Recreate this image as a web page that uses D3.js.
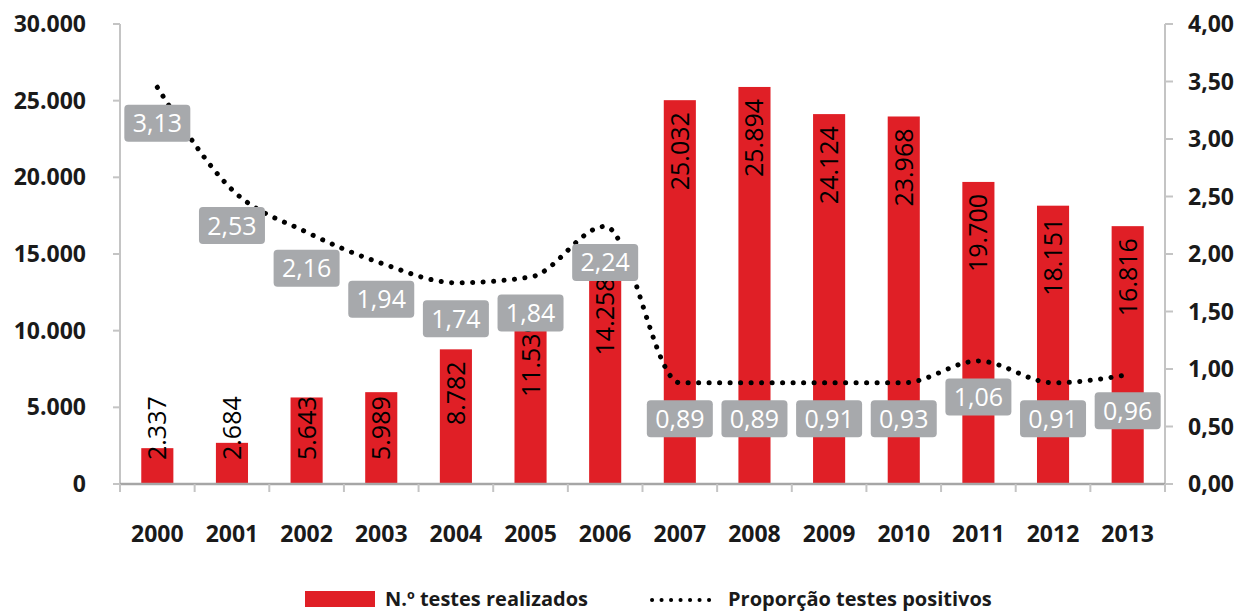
<!DOCTYPE html>
<html>
<head>
<meta charset="utf-8">
<script src="https://cdn.jsdelivr.net/npm/d3@7"></script>
<style>
  body { margin: 0; background: #fff; }
  svg { font-family: "Open Sans", sans-serif; }
</style>
</head>
<body>
<div id="chart"></div>
<script>
var years = ["2000", "2001", "2002", "2003", "2004", "2005", "2006",
             "2007", "2008", "2009", "2010", "2011", "2012", "2013"];
var testes = [2337, 2684, 5643, 5989, 8782, 11539, 14258,
              25032, 25894, 24124, 23968, 19700, 18151, 16816];
// line as drawn in the picture
var proporcao = [3.45, 2.56, 2.19, 1.92, 1.75, 1.80, 2.24,
                 0.88, 0.88, 0.88, 0.88, 1.07, 0.88, 0.95];
// value labels printed on the grey boxes
var proporcao_labels = ["3,13", "2,53", "2,16", "1,94", "1,74", "1,84", "2,24",
                        "0,89", "0,89", "0,91", "0,93", "1,06", "0,91", "0,96"];
var left_ticks = [0, 5000, 10000, 15000, 20000, 25000, 30000];
var right_ticks = [0, 0.5, 1, 1.5, 2, 2.5, 3, 3.5, 4];

function draw_chart() {
    var width = 1247;
    var height = 612;
    var red = "#e01f26";
    var grey_box = "#a7a9ac";
    var axis_color = "#c4c4c4";

    var svg = d3.select("#chart").append("svg")
        .attr("width", width)
        .attr("height", height);

    var x = d3.scaleBand().domain(years).range([120, 1165]).padding(0);
    var y_left = d3.scaleLinear().domain([0, 30000]).range([484, 24]);
    var y_right = d3.scaleLinear().domain([0, 4]).range([484, 24]);
    var bar_w = x.step() * 0.43;

    var fmt_int = function(v) { return d3.format(",")(v).replace(/,/g, "."); };
    var fmt_dec = function(v) { return d3.format(".2f")(v).replace(".", ","); };

    // left axis
    var gl = svg.append("g");
    gl.append("line")
        .attr("x1", 120).attr("x2", 120)
        .attr("y1", y_left(30000)).attr("y2", y_left(0))
        .attr("stroke", axis_color).attr("stroke-width", 2);
    gl.selectAll("line.tick").data(left_ticks).enter()
        .append("line").attr("class", "tick")
        .attr("x1", 113).attr("x2", 120)
        .attr("y1", function(d) { return y_left(d); })
        .attr("y2", function(d) { return y_left(d); })
        .attr("stroke", axis_color).attr("stroke-width", 2);
    gl.selectAll("text").data(left_ticks).enter()
        .append("text")
        .attr("x", 86)
        .attr("y", function(d) { return y_left(d); })
        .attr("dy", "0.35em")
        .attr("text-anchor", "end")
        .attr("font-size", 23)
        .attr("font-weight", "bold")
        .attr("fill", "#1a1a1a")
        .text(function(d) { return d == 0 ? "0" : fmt_int(d); });

    // right axis
    var gr = svg.append("g");
    gr.append("line")
        .attr("x1", 1165).attr("x2", 1165)
        .attr("y1", y_right(4)).attr("y2", y_right(0))
        .attr("stroke", axis_color).attr("stroke-width", 2);
    gr.selectAll("line.tick").data(right_ticks).enter()
        .append("line").attr("class", "tick")
        .attr("x1", 1165).attr("x2", 1173)
        .attr("y1", function(d) { return y_right(d); })
        .attr("y2", function(d) { return y_right(d); })
        .attr("stroke", axis_color).attr("stroke-width", 2);
    gr.selectAll("text").data(right_ticks).enter()
        .append("text")
        .attr("x", 1188)
        .attr("y", function(d) { return y_right(d); })
        .attr("dy", "0.35em")
        .attr("font-size", 23)
        .attr("font-weight", "bold")
        .attr("fill", "#1a1a1a")
        .text(function(d) { return fmt_dec(d); });

    // bars
    svg.append("g").selectAll("rect").data(testes).enter()
        .append("rect")
        .attr("x", function(d, i) { return x(years[i]) + (x.step() - bar_w) / 2; })
        .attr("y", function(d) { return y_left(d); })
        .attr("width", bar_w)
        .attr("height", function(d) { return y_left(0) - y_left(d); })
        .attr("fill", red);

    // bottom axis
    var gb = svg.append("g");
    gb.append("line")
        .attr("x1", 120).attr("x2", 1165)
        .attr("y1", 484).attr("y2", 484)
        .attr("stroke", "#a6a6a6").attr("stroke-width", 2.5);
    var bounds = years.map(function(d) { return x(d); }).concat([x.range()[1]]);
    gb.selectAll("line.tick").data(bounds).enter()
        .append("line").attr("class", "tick")
        .attr("x1", function(d) { return d; }).attr("x2", function(d) { return d; })
        .attr("y1", 484).attr("y2", 492)
        .attr("stroke", axis_color).attr("stroke-width", 2);
    gb.selectAll("text").data(years).enter()
        .append("text")
        .attr("x", function(d) { return x(d) + x.step() / 2; })
        .attr("y", 542)
        .attr("text-anchor", "middle")
        .attr("font-size", 23)
        .attr("font-weight", "bold")
        .attr("fill", "#1a1a1a")
        .text(function(d) { return d; });

    // bar value labels, rotated
    svg.append("g").selectAll("text").data(testes).enter()
        .append("text")
        .attr("transform", function(d, i) {
            var cx = x(years[i]) + x.step() / 2;
            var small = (y_left(0) - y_left(d)) < 100;
            var yy = small ? 460 : y_left(d) + 12;
            return "translate(" + (cx + 9) + "," + yy + ") rotate(-90)";
        })
        .attr("text-anchor", function(d) {
            return (y_left(0) - y_left(d)) < 100 ? "start" : "end";
        })
        .attr("font-size", 25)
        .attr("fill", "#000")
        .text(function(d) { return fmt_int(d); });

    // dotted line
    var line = d3.line()
        .x(function(d, i) { return x(years[i]) + x.step() / 2; })
        .y(function(d) { return y_right(d); })
        .curve(d3.curveMonotoneX);
    svg.append("path")
        .datum(proporcao)
        .attr("d", line)
        .attr("fill", "none")
        .attr("stroke", "#000")
        .attr("stroke-width", 5)
        .attr("stroke-linecap", "round")
        .attr("stroke-dasharray", "0.1 10.4");

    // grey value boxes
    var lab = svg.append("g").selectAll("g").data(proporcao).enter()
        .append("g")
        .attr("transform", function(d, i) {
            return "translate(" + (x(years[i]) + x.step() / 2) + "," + (y_right(d) + 36) + ")";
        });
    lab.append("rect")
        .attr("x", -33).attr("y", -18.5)
        .attr("width", 66).attr("height", 37)
        .attr("rx", 4)
        .attr("fill", grey_box);
    lab.append("text")
        .attr("text-anchor", "middle")
        .attr("dy", "0.36em")
        .attr("font-size", 25)
        .attr("fill", "#fff")
        .text(function(d, i) { return proporcao_labels[i]; });

    // legend
    var lg = svg.append("g");
    lg.append("rect")
        .attr("x", 305).attr("y", 591)
        .attr("width", 70).attr("height", 16)
        .attr("fill", red);
    lg.append("text")
        .attr("x", 385).attr("y", 599)
        .attr("dy", "0.35em")
        .attr("font-size", 20)
        .attr("font-weight", "bold")
        .attr("fill", "#1a1a1a")
        .text("N.º testes realizados");
    lg.append("line")
        .attr("x1", 652).attr("x2", 718)
        .attr("y1", 600).attr("y2", 600)
        .attr("stroke", "#000")
        .attr("stroke-width", 4)
        .attr("stroke-linecap", "round")
        .attr("stroke-dasharray", "0.1 9.4");
    lg.append("text")
        .attr("x", 728).attr("y", 599)
        .attr("dy", "0.35em")
        .attr("font-size", 20)
        .attr("font-weight", "bold")
        .attr("fill", "#1a1a1a")
        .text("Proporção testes positivos");
}

draw_chart();
</script>
</body>
</html>
